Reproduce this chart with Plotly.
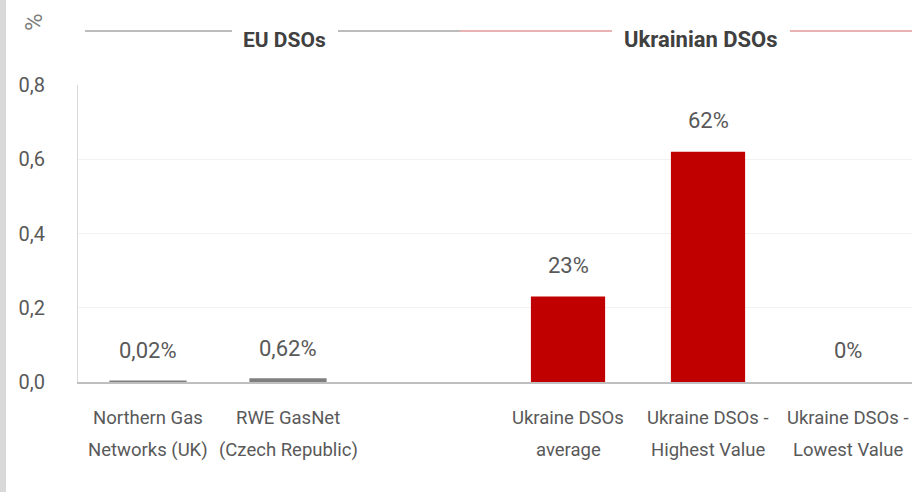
import plotly.graph_objects as go

# category labels (two lines each), blank slot separates EU and Ukrainian groups
label_top = ['Northern Gas', 'RWE GasNet', '', 'Ukraine DSOs', 'Ukraine DSOs -', 'Ukraine DSOs -']
label_bottom = ['Networks (UK)', '(Czech Republic)', '', 'average', 'Highest Value', 'Lowest Value']
values = [0.0002, 0.0062, None, 0.23, 0.62, 0.0]
value_labels = ['0,02%', '0,62%', '', '23%', '62%', '0%']
bar_colors = ['#7f7f7f', '#7f7f7f', '#7f7f7f', '#c00000', '#c00000', '#c00000']
y_ticks = [0.0, 0.2, 0.4, 0.6, 0.8]

family = 'Roboto'
grey_text = '#595959'

categories = [(a + ' ' + b).strip() or ' ' for a, b in zip(label_top, label_bottom)]

fig = go.Figure()
fig.add_trace(go.Bar(
    x=categories,
    y=values,
    width=0.53,
    # the tiny EU values get an outline so they show as a thin bar on the axis
    marker=dict(color=bar_colors,
                line=dict(color=bar_colors, width=[3, 3, 0, 0, 0, 0])),
    cliponaxis=False,
    hoverinfo='skip',
))

# plot area: left 78px, right 912px (width 834), top 85px, bottom 382px
L, W, H = 78, 834, 297
def px(x):
    return (x - L) / W

def py(y):
    return (382 - y) / H

annotations = []
# value labels above the bars
for cat, v, lab in zip(categories, values, value_labels):
    if v is None:
        continue
    annotations.append(dict(x=cat, y=v, xref='x', yref='y', text=lab, showarrow=False,
                            xanchor='center', yanchor='bottom', yshift=17,
                            font=dict(family=family, size=22, color=grey_text)))
# two-line category labels
for cat, top, bottom in zip(categories, label_top, label_bottom):
    annotations.append(dict(x=cat, y=0, xref='x', yref='paper', text=top, showarrow=False,
                            xanchor='center', yanchor='middle', yshift=-36,
                            font=dict(family=family, size=18.5, color=grey_text)))
    annotations.append(dict(x=cat, y=0, xref='x', yref='paper', text=bottom, showarrow=False,
                            xanchor='center', yanchor='middle', yshift=-68,
                            font=dict(family=family, size=18.5, color=grey_text)))

# group headers
annotations.append(dict(x=px(284), y=py(40), xref='paper', yref='paper',
                        xanchor='center', yanchor='middle',
                        text='<b>EU DSOs</b>', showarrow=False,
                        font=dict(family=family, size=21, color='#404040')))
annotations.append(dict(x=px(701), y=py(39), xref='paper', yref='paper',
                        xanchor='center', yanchor='middle',
                        text='<b>Ukrainian DSOs</b>', showarrow=False,
                        font=dict(family=family, size=22, color='#404040')))
# y axis unit
annotations.append(dict(x=px(34), y=py(22), xref='paper', yref='paper',
                        xanchor='center', yanchor='middle',
                        text='%', textangle=-90, showarrow=False,
                        font=dict(family=family, size=24, color='#7f7f7f')))

hy = py(31)
shapes = [
    dict(type='line', xref='paper', yref='paper', x0=px(85), x1=px(232), y0=hy, y1=hy,
         line=dict(color='#a6a6a6', width=1.5)),
    dict(type='line', xref='paper', yref='paper', x0=px(338), x1=px(460), y0=hy, y1=hy,
         line=dict(color='#a6a6a6', width=1.5)),
    dict(type='line', xref='paper', yref='paper', x0=px(460), x1=px(612), y0=hy, y1=hy,
         line=dict(color='#e39a9a', width=1.5)),
    dict(type='line', xref='paper', yref='paper', x0=px(790), x1=px(912), y0=hy, y1=hy,
         line=dict(color='#e39a9a', width=1.5)),
    # grey frame strip at the left edge of the image
    dict(type='rect', xref='paper', yref='paper', x0=px(0), x1=px(6), y0=py(492), y1=py(0),
         fillcolor='#d9d9d9', line=dict(width=0), layer='below'),
]

fig.update_xaxes(
    type='category',
    categoryorder='array',
    categoryarray=categories,
    range=[-0.5, 5.457],
    showticklabels=False,
    showline=True,
    linecolor='#bfbfbf',
    linewidth=1.5,
    showgrid=False,
    zeroline=False,
)
fig.update_yaxes(
    range=[0, 0.8],
    tickvals=y_ticks,
    tickformat='.1f',
    tickfont=dict(family=family, size=20, color=grey_text),
    ticklabelstandoff=28,
    showline=True,
    linecolor='#d9d9d9',
    linewidth=1,
    showgrid=True,
    gridcolor='#f2f2f2',
    gridwidth=1,
    zeroline=False,
)
fig.update_layout(
    width=912,
    height=492,
    margin=dict(l=L, r=0, t=85, b=110),
    paper_bgcolor='white',
    plot_bgcolor='white',
    separators=', ',
    showlegend=False,
    annotations=annotations,
    shapes=shapes,
    font=dict(family=family, size=18, color=grey_text),
)

fig.write_html('out.html', config={'displayModeBar': False},
               post_script="document.body.style.margin='0px';")
